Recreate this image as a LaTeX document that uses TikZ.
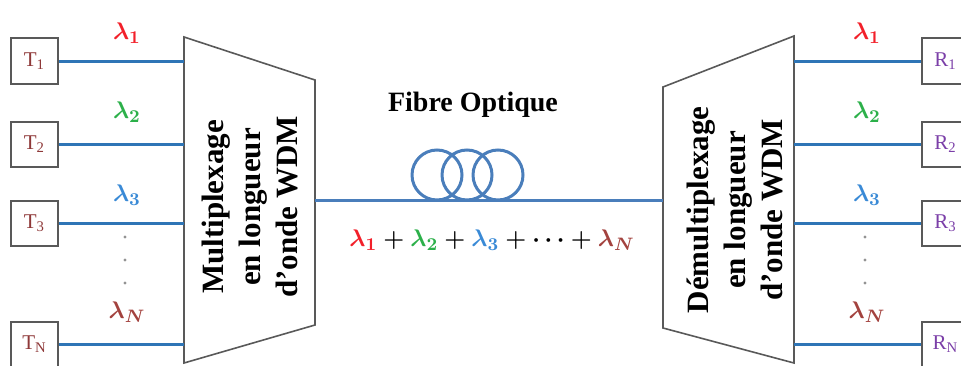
\documentclass[tikz,border=0pt]{standalone}
\usepackage{fontspec}
\setmainfont{Liberation Serif}
\usepackage{amsmath}
\usepackage{xcolor}
\usetikzlibrary{positioning, calc}
\definecolor{LineBlue}{HTML}{2E75B6}
\definecolor{FibreBlue}{HTML}{4A7EBB}
\definecolor{BoxGray}{HTML}{595959}
\definecolor{LamRed}{HTML}{F2202A}
\definecolor{LamGreen}{HTML}{2CB04A}
\definecolor{LamBlue}{HTML}{3A8AD6}
\definecolor{LamBrown}{HTML}{A3423E}
\definecolor{TxText}{HTML}{8E3838}
\definecolor{RxText}{HTML}{7B3FA8}
\tikzset{
  tbox/.style={draw=BoxGray, line width=1pt, minimum width=23.5pt,
    minimum height=22.5pt, inner sep=0pt, font=\fontsize{10.5}{12}\selectfont,
    text=TxText},
  rbox/.style={tbox, text=RxText},
  chan/.style={draw=LineBlue, line width=1.5pt},
  fibre/.style={draw=FibreBlue, line width=1.5pt},
  wdm/.style={draw=BoxGray, line width=0.8pt},
  wlabel/.style={rotate=90, align=center, inner sep=0pt,
    font=\fontsize{15.5}{18.5}\selectfont\bfseries},
  lam/.style={font=\fontsize{12.5}{14}\selectfont\boldmath, inner sep=0pt},
  dot/.style={fill=gray!85},
}

\begin{document}
\begin{tikzpicture}[x=0.5pt, y=0.5pt]
    \useasboundingbox (0,0) rectangle (961,365);
    % multiplexeur
    \coordinate (mux-nw) at (184,328);
    \coordinate (mux-ne) at (315,285);
    \coordinate (mux-se) at (315,40);
    \coordinate (mux-sw) at (184,2);
    \draw[wdm] (mux-nw) -- (mux-ne) -- (mux-se) -- (mux-sw) -- cycle;
    \node[wlabel] (muxtxt) at (250,158) {Multiplexage\\en longueur\\d'onde WDM};
    % demultiplexeur
    \coordinate (demux-nw) at (663,278);
    \coordinate (demux-ne) at (794,329);
    \coordinate (demux-se) at (794,2);
    \coordinate (demux-sw) at (663,37);
    \draw[wdm] (demux-nw) -- (demux-ne) -- (demux-se) -- (demux-sw) -- cycle;
    \node[wlabel] (demuxtxt) at (735,155) {Démultiplexage\\en longueur\\d'onde WDM};
    % emetteurs et recepteurs
    \node[tbox] (t1) at (34.5,304) {T\textsubscript{1}};
    \node[tbox] (t2) at (34.5,221) {T\textsubscript{2}};
    \node[tbox] (t3) at (34.5,142) {T\textsubscript{3}};
    \node[tbox] (tn) at (34.5,21) {T\textsubscript{N}};
    \node[rbox] (r1) at (945.5,304) {R\textsubscript{1}};
    \node[rbox] (r2) at (945.5,221) {R\textsubscript{2}};
    \node[rbox] (r3) at (945.5,142) {R\textsubscript{3}};
    \node[rbox] (rn) at (945.5,21) {R\textsubscript{N}};
    \foreach \k in {1,2,3,n} {
      \draw[chan] (t\k.east) -- (t\k -| mux-nw);
      \draw[chan] (r\k.west) -- (r\k -| demux-ne);
    }
    % longueurs d'onde
    \foreach \side/\xx in {l/127, r/867} {
      \node[lam, text=LamRed] (\side-lam1) at (\xx,332) {$\lambda_1$};
      \node[lam, text=LamGreen] (\side-lam2) at (\xx,253) {$\lambda_2$};
      \node[lam, text=LamBlue] (\side-lam3) at (\xx,170) {$\lambda_3$};
      \node[lam, text=LamBrown] (\side-lamn) at (\xx,53) {$\lambda_N$};
      \foreach \yy in {128,105,82}
        \fill[dot] (\xx-2,\yy) circle (1.6);
    }
    % fibre
    \coordinate (mux-out) at (315,165);
    \coordinate (demux-in) at (663,165);
    \draw[fibre] (mux-out) -- (demux-in);
    \foreach \cx in {437,467,498}
      \draw[fibre] (\cx,190) circle (25);
    \node[font=\fontsize{14}{16}\selectfont\bfseries] (fibtxt) at (473,260) {Fibre Optique};
    \node[lam, font=\fontsize{13}{15}\selectfont\boldmath] (sum) at (492,125)
      {$\textcolor{LamRed}{\lambda_1} + \textcolor{LamGreen}{\lambda_2}
        + \textcolor{LamBlue}{\lambda_3} + \cdots + \textcolor{LamBrown}{\lambda_N}$};
  \end{tikzpicture}
\end{document}
